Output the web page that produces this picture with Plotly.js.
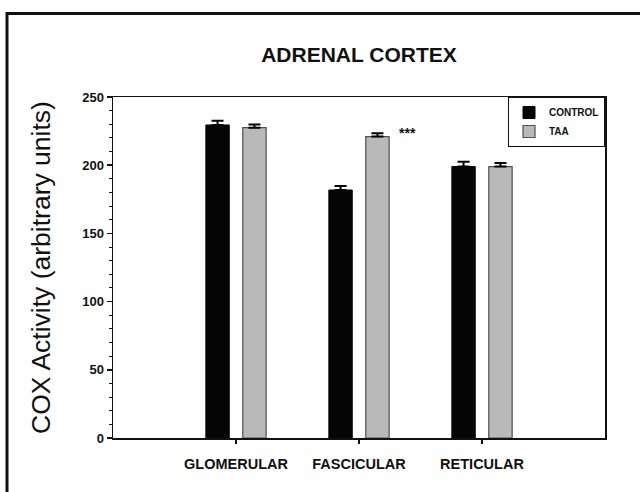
<!DOCTYPE html>
<html><head><meta charset="utf-8">
<script src="https://cdn.plot.ly/plotly-3.0.1.min.js"></script>
<style>body{margin:0;background:#fff}#chart{width:640px;height:492px}</style>
</head><body><div id="chart"></div>
<script>
const categories = ["GLOMERULAR", "FASCICULAR", "RETICULAR"];
const controlValues = [229.5, 181.8, 199.0];
const controlErrors = [3.0, 3.0, 3.6];
const taaValues = [227.5, 221.0, 199.0];
const taaErrors = [2.3, 2.4, 2.6];
const yTicks = [0, 50, 100, 150, 200, 250];

const font = 'Liberation Sans, Arial, sans-serif';

const traces = [
  {type:'bar', name:'CONTROL', x:categories, y:controlValues, offset:-0.245, width:0.19,
   marker:{color:'#050505', line:{color:'#000', width:1}},
   error_y:{type:'data', symmetric:false, array:controlErrors, arrayminus:[0,0,0],
            color:'#000', thickness:2, width:6}},
  {type:'bar', name:'TAA', x:categories, y:taaValues, offset:0.055, width:0.19,
   marker:{color:'#b9b9b9', line:{color:'#505050', width:1.2}},
   error_y:{type:'data', symmetric:false, array:taaErrors, arrayminus:[0,0,0],
            color:'#000', thickness:2, width:6}}
];

const layout = {
  width:640, height:492,
  margin:{l:113, r:35, t:97, b:54},
  paper_bgcolor:'#fff', plot_bgcolor:'#fff',
  barmode:'overlay',
  showlegend:true,
  title:{text:'<b>ADRENAL CORTEX</b>', font:{family:font, size:21, color:'#111'},
         x:0.5, xref:'paper', xanchor:'center', y:1-55/492, yanchor:'middle'},
  xaxis:{type:'category', range:[-1.0, 3.0], showline:true, linecolor:'#111', linewidth:1.5,
         mirror:true, ticks:'outside', ticklen:4, tickcolor:'#111', tickwidth:1.5,
         ticklabelstandoff:8,
         tickfont:{family:font, size:14.5, color:'#111', weight:'bold'}, showgrid:false, zeroline:false},
  yaxis:{range:[0,250], tickvals:yTicks, showline:true, linecolor:'#111', linewidth:1.5,
         mirror:true, ticks:'outside', ticklen:5, tickcolor:'#111', tickwidth:1.5,
         minor:{dtick:10, ticks:'outside', ticklen:3, tickcolor:'#111', tickwidth:1},
         tickfont:{family:font, size:13, color:'#111', weight:'bold'}, showgrid:false, zeroline:false,
         title:{text:'COX Activity (arbitrary units)', font:{family:font, size:26.5, color:'#111'}, standoff:24}},
  legend:{x:1, y:1, xanchor:'right', yanchor:'top', bordercolor:'#111', borderwidth:1,
          bgcolor:'#fff', font:{family:font, size:10, color:'#111', weight:'bold'},
          tracegroupgap:0, itemwidth:30},
  shapes:[
    {type:'rect', xref:'paper', yref:'paper', x0:(7-113)/492, x1:(650-113)/492,
     y0:(438-510)/341, y1:(438-13.5)/341, line:{color:'#111', width:3}, fillcolor:'rgba(0,0,0,0)'}
  ],
  annotations:[
    {x:'FASCICULAR', xref:'x', xshift:48, y:taaValues[1]+taaErrors[1], yref:'y', yshift:-10,
     text:'<b>***</b>', showarrow:false, font:{family:font, size:14, color:'#111'}, xanchor:'center', yanchor:'bottom'}
  ]
};

Plotly.newPlot('chart', traces, layout, {displayModeBar:false, staticPlot:true});
</script></body></html>
